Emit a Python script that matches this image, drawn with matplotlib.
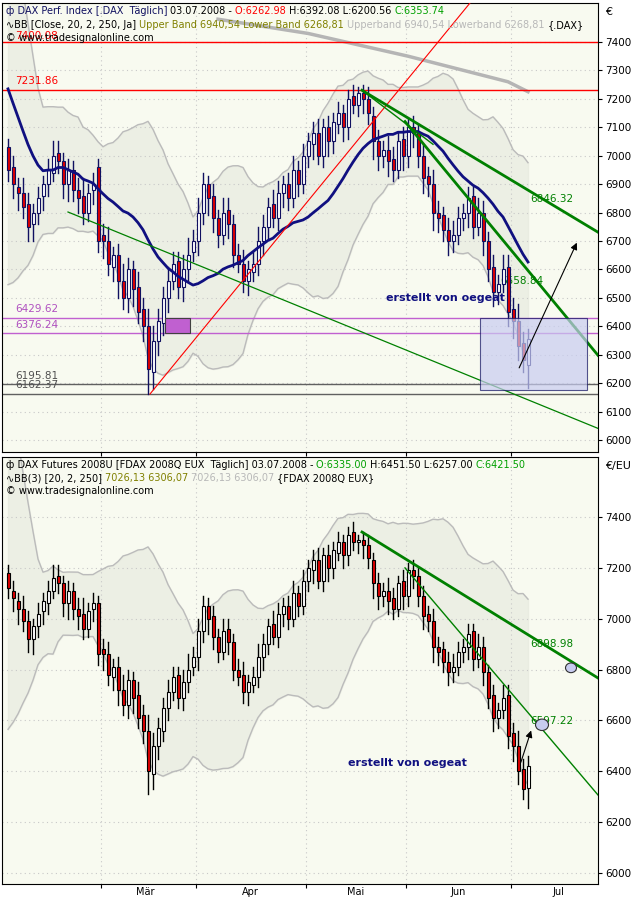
import matplotlib
matplotlib.use("Agg")
import matplotlib.pyplot as plt
import numpy as np
import pandas as pd
from matplotlib.patches import Rectangle, Ellipse

# ---------------- data ----------------
jan_closes = [7950, 7900, 7850, 7800, 7700, 7600, 7500, 7300, 6900, 7000, 6800, 6900,
              7100, 7050, 7000, 7150, 7000, 7050, 7100, 7050]
dax_close = [6950, 6900, 6870, 6820, 6750, 6800, 6850, 6900, 6950, 7000, 6980, 6900, 6950, 6880, 6850, 6800, 6870, 6900, 6700,
             6700, 6620, 6650, 6560, 6500, 6600, 6530, 6450, 6400, 6250, 6350, 6420,
             6500, 6560, 6620, 6540, 6600, 6650, 6700, 6800, 6900, 6850,
             6780, 6720, 6800, 6760, 6650, 6620, 6560, 6600, 6620, 6700,
             6750, 6820, 6780, 6870, 6900, 6850, 6950, 6900, 7000, 7050,
             7080, 7000, 7100, 7050, 7120, 7150, 7100, 7200, 7180, 7220,
             7200, 7150, 7050, 7000, 7020, 6980, 6950, 7050, 7000, 7100,
             7080, 7000, 6920, 6900, 6800, 6780, 6740, 6700, 6720, 6780,
             6800, 6850, 6750, 6800, 6700, 6600, 6520, 6550, 6600, 6450,
             6420, 6330, 6280, 6354]
dax_open = [7030, 6960, 6890, 6870, 6830, 6760, 6800, 6860, 6900, 6940, 7010, 6980, 6900, 6950, 6880, 6860, 6800, 6880, 6960,
            6720, 6700, 6610, 6650, 6560, 6500, 6600, 6540, 6460, 6400, 6240, 6350,
            6410, 6500, 6560, 6630, 6540, 6600, 6660, 6700, 6800, 6900,
            6860, 6780, 6720, 6810, 6760, 6650, 6620, 6560, 6590, 6620,
            6700, 6750, 6830, 6780, 6870, 6900, 6850, 6950, 6900, 7000,
            7040, 7080, 7000, 7100, 7050, 7110, 7150, 7100, 7210, 7180,
            7220, 7200, 7140, 7050, 7000, 7020, 6990, 6950, 7060, 7000,
            7100, 7080, 7000, 6930, 6900, 6800, 6790, 6740, 6700, 6720,
            6780, 6800, 6860, 6750, 6800, 6700, 6610, 6520, 6550, 6610,
            6460, 6420, 6340, 6263]
dax_high_ext = [30, 40, 30, 50, 40, 30, 40, 30, 40, 50, 40, 30, 40, 30, 40, 60, 30, 40, 30,
                40, 50, 30, 40, 60, 40, 30, 50, 40, 60, 50, 40,
                40, 50, 40, 30, 50, 60, 40, 50, 40, 30,
                40, 30, 50, 40, 30, 40, 50, 30, 40, 50,
                40, 30, 50, 40, 30, 40, 50, 30, 40, 30,
                40, 50, 30, 40, 30, 40, 30, 30, 40, 20,
                30, 40, 30, 40, 30, 50, 40, 30, 40, 30,
                40, 30, 40, 30, 50, 40, 30, 40, 50, 40,
                30, 40, 30, 50, 40, 30, 40, 30, 50, 40,
                40, 60, 40, 38]
dax_low_ext = [40, 50, 60, 40, 50, 60, 40, 50, 40, 30, 40, 50, 60, 40, 50, 40, 30, 50, 40,
               60, 40, 50, 60, 40, 50, 60, 40, 50, 88, 60, 50,
               40, 50, 30, 40, 50, 40, 30, 50, 40, 60,
               50, 40, 30, 50, 40, 30, 40, 50, 30, 40,
               50, 40, 30, 40, 50, 40, 30, 40, 30, 40,
               50, 30, 40, 50, 40, 30, 50, 40, 30, 40,
               50, 40, 60, 50, 40, 50, 40, 30, 50, 40,
               50, 40, 50, 40, 60, 50, 40, 50, 40, 30,
               40, 50, 40, 30, 50, 40, 50, 40, 30, 50,
               60, 50, 40, 80]

fut_close = [7120, 7080, 7040, 6990, 6920, 6970, 7020, 7070, 7110, 7160, 7140, 7060, 7110, 7040, 7010, 6960, 7030, 7060, 6860,
             6860, 6780, 6810, 6720, 6660, 6760, 6690, 6610, 6560, 6400, 6500, 6570,
             6650, 6710, 6770, 6690, 6750, 6800, 6850, 6950, 7050, 7000,
             6930, 6870, 6950, 6910, 6800, 6770, 6710, 6750, 6770, 6850,
             6900, 6970, 6930, 7020, 7050, 7000, 7100, 7050, 7150, 7200,
             7230, 7150, 7250, 7200, 7270, 7300, 7250, 7330, 7300, 7310,
             7290, 7240, 7140, 7090, 7110, 7070, 7040, 7140, 7090, 7190,
             7170, 7090, 7010, 6990, 6890, 6870, 6830, 6790, 6810, 6870,
             6890, 6940, 6840, 6890, 6790, 6690, 6610, 6640, 6690, 6540,
             6500, 6400, 6330, 6421]
fut_open = [7180, 7110, 7070, 7040, 6990, 6920, 6970, 7030, 7060, 7110, 7170, 7140, 7060, 7110, 7040, 7020, 6960, 7040, 7060,
            6880, 6860, 6770, 6810, 6720, 6660, 6760, 6700, 6620, 6560, 6390, 6500,
            6560, 6650, 6710, 6780, 6690, 6750, 6810, 6850, 6950, 7050,
            7010, 6930, 6870, 6960, 6910, 6800, 6780, 6710, 6740, 6770,
            6850, 6900, 6980, 6930, 7020, 7050, 7000, 7100, 7050, 7150,
            7190, 7230, 7150, 7250, 7200, 7260, 7300, 7250, 7340, 7300,
            7310, 7290, 7230, 7140, 7090, 7110, 7080, 7040, 7150, 7090,
            7190, 7170, 7090, 7020, 6990, 6890, 6880, 6830, 6790, 6810,
            6870, 6890, 6950, 6840, 6890, 6790, 6700, 6610, 6640, 6700,
            6550, 6500, 6410, 6335]

months = ["Mär", "Apr", "Mai", "Jun", "Jul"]
month_bounds = [18.5, 37.5, 59.5, 79.5, 100.5]
month_label_pos = [27.5, 48.5, 69.5, 90.0, 110.0]

ma_250_pts_x = [42, 60, 80, 100, 104]
ma_250_pts_y = [7480, 7430, 7350, 7260, 7225]

# ---------------- helpers ----------------
BG = "#F8FAF0"
n = len(dax_close)
idx = np.arange(n)

fig = plt.figure(figsize=(6.4, 9.0), dpi=100)
fig.patch.set_facecolor("white")
ax1 = fig.add_axes([2/640, 1-452/900, 596/640, 449/900])
ax2 = fig.add_axes([2/640, 1-884/900, 596/640, 427/900])
renderer = fig.canvas.get_renderer()

def bands(closes):
    s = pd.Series(jan_closes + list(closes), dtype=float)
    ma = s.rolling(20).mean().values[-n:]
    sd = s.rolling(20).std(ddof=0).values[-n:]
    return ma, ma + 2*sd, ma - 2*sd

def candles(ax, o, c, hx, lx, edge):
    for i in range(n):
        hi = max(o[i], c[i]) + hx[i]
        lo = min(o[i], c[i]) - lx[i]
        ax.plot([i, i], [lo, hi], color=edge, lw=1, zorder=3)
        col = "white" if c[i] >= o[i] else "#E00000"
        ax.add_patch(Rectangle((i-0.3, min(o[i], c[i])), 0.6, max(abs(c[i]-o[i]), 3),
                               facecolor=col, edgecolor=edge, lw=0.8, zorder=4))

def style(ax, ylo, yhi, ticks):
    ax.set_facecolor(BG)
    ax.set_xlim(-1.2, 118)
    ax.set_ylim(ylo, yhi)
    ax.yaxis.tick_right()
    ax.set_yticks(ticks)
    ax.set_yticklabels([str(t) for t in ticks], fontsize=7.5)
    ax.tick_params(axis="y", length=3, pad=2)
    ax.set_xticks(month_bounds)
    ax.set_xticklabels([])
    ax.tick_params(axis="x", length=3)
    ax.grid(True, color="#C8C8C8", ls=(0, (1, 3)), lw=0.8)
    for sp in ax.spines.values():
        sp.set_color("black"); sp.set_linewidth(0.8)

def header(ax, y, parts, size=7):
    x = 0.006
    for txt, col in parts:
        t = ax.text(x, y, txt, color=col, fontsize=size, transform=ax.transAxes, va="top", zorder=8)
        bb = t.get_window_extent(renderer=renderer)
        x += bb.width / ax.get_window_extent(renderer=renderer).width

# ---------------- top panel ----------------
ma, up, lo = bands(dax_close)
ax1.fill_between(idx, lo, up, color="#E4E8DC", alpha=0.6, zorder=1)
ax1.plot(idx, up, color="#BBBBBB", lw=1, zorder=2)
ax1.plot(idx, lo, color="#BBBBBB", lw=1, zorder=2)
ax1.plot(ma_250_pts_x, ma_250_pts_y, color="#B5B5B5", lw=2.5, zorder=2)
ax1.plot(idx, ma, color="#101080", lw=2, zorder=5)
candles(ax1, dax_open, dax_close, dax_high_ext, dax_low_ext, "#101060")
style(ax1, 5958, 7537, list(range(6000, 7401, 100)))

for lvl, col in [(7400.08, "red"), (7231.86, "red"), (6429.62, "#C060D0"), (6376.24, "#C060D0"),
                 (6195.81, "#606060"), (6162.37, "#606060")]:
    ax1.axhline(lvl, color=col, lw=1, zorder=2)
for lvl, col in [(7231.86, "red"), (6429.62, "#B050C0"), (6376.24, "#B050C0"),
                 (6195.81, "#505050"), (6162.37, "#505050")]:
    ax1.text(1.5, lvl + 12, f"{lvl:.2f}", color=col, fontsize=7.5, va="bottom")
ax1.text(1.5, 7405, "7400.08", color="red", fontsize=7.5, va="bottom")
ax1.add_patch(Rectangle((31.4, 6376.24), 5, 53.38, facecolor="#C060D0", edgecolor="#404040", lw=0.8, zorder=6))
ax1.plot([28.4, 92.4], [6162, 7537], color="red", lw=0.8, zorder=6)
ax1.plot([12, 118], [6802, 6041], color="green", lw=0.9, zorder=6)
ax1.plot([70.8, 118], [7230, 6731], color="green", lw=2, zorder=6)
ax1.plot([79.4, 118], [7120, 6298], color="green", lw=2, zorder=6)
ax1.plot([70.8, 85], [7230, 7040], color="green", lw=1, zorder=6)
ax1.text(104.5, 6846, "6846.32", color="green", fontsize=7.5, va="center")
ax1.text(98.5, 6559, "6558.84", color="green", fontsize=7.5, va="center")
ax1.add_patch(Rectangle((94.4, 6175), 21.4, 253, facecolor="#C8CCF0", alpha=0.7,
                        edgecolor="#101060", lw=0.8, zorder=6))
ax1.annotate("", xy=(114, 6703), xytext=(102, 6245),
             arrowprops=dict(arrowstyle="-|>", color="black", lw=0.8), zorder=7)
ax1.text(75.5, 6490, "erstellt von oegeat", color="#101080", fontsize=8, fontweight="bold", zorder=7)

header(ax1, 0.993, [("ф DAX Perf. Index [.DAX  Täglich] ", "#101060"), ("03.07.2008 - ", "black"),
                    ("O:6262.98 ", "red"), ("H:6392.08 L:6200.56 ", "black"), ("C:6353.74", "#00A000")])
header(ax1, 0.963, [("∿BB [Close, 20, 2, 250, Ja] ", "black"), ("Upper Band 6940,54 Lower Band 6268,81 ", "#808000"),
                    ("Upperband 6940,54 Lowerband 6268,81 ", "#B8B8B8"), ("{.DAX}", "black")])
ax1.text(0.006, 0.933, "© www.tradesignalonline.com", fontsize=7, transform=ax1.transAxes, va="top", zorder=8)
fig.text(605/640, 1-12/900, "€", fontsize=8, va="center")

# ---------------- bottom panel ----------------
ma2, up2, lo2 = bands(fut_close)
ax2.fill_between(idx, lo2, up2, color="#E4E8DC", alpha=0.6, zorder=1)
ax2.plot(idx, up2, color="#BBBBBB", lw=1, zorder=2)
ax2.plot(idx, lo2, color="#BBBBBB", lw=1, zorder=2)
candles(ax2, fut_open, fut_close, dax_high_ext, dax_low_ext, "black")
style(ax2, 5957, 7636, list(range(6000, 7401, 200)))
ax2.plot([70.8, 118], [7341, 6767], color="green", lw=2, zorder=6)
ax2.plot([79.4, 118], [7200, 6307], color="green", lw=1, zorder=6)
ax2.text(104.5, 6899, "6898.98", color="green", fontsize=7.5, va="center")
ax2.text(104.5, 6597, "6597.22", color="green", fontsize=7.5, va="center")
ax2.annotate("", xy=(104.8, 6571), xytext=(102.4, 6425),
             arrowprops=dict(arrowstyle="-|>", color="black", lw=0.8), zorder=7)
ax2.add_patch(Ellipse((106.8, 6583), 2.6, 45, facecolor="#C8CCF0", edgecolor="#303030", lw=0.8, zorder=7))
ax2.add_patch(Ellipse((112.6, 6807), 2.2, 38, facecolor="#C8CCF0", edgecolor="#303030", lw=0.8, zorder=7))
ax2.text(68, 6420, "erstellt von oegeat", color="#101080", fontsize=8, fontweight="bold", zorder=7)
header(ax2, 0.993, [("ф DAX Futures 2008U [FDAX 2008Q EUX  Täglich] 03.07.2008 - ", "black"),
                    ("O:6335.00 ", "#00A000"), ("H:6451.50 L:6257.00 ", "black"), ("C:6421.50", "#00A000")])
header(ax2, 0.962, [("∿BB(3) [20, 2, 250] ", "black"), ("7026,13 6306,07 ", "#808000"),
                    ("7026,13 6306,07 ", "#B8B8B8"), ("{FDAX 2008Q EUX}", "black")])
ax2.text(0.006, 0.931, "© www.tradesignalonline.com", fontsize=7, transform=ax2.transAxes, va="top", zorder=8)
fig.text(605/640, 1-466/900, "€/EU", fontsize=8, va="center")
for m, p in zip(months, month_label_pos):
    ax2.text(p, -0.008, m, transform=ax2.get_xaxis_transform(), ha="center", va="top", fontsize=7)

fig.savefig("out.png", dpi=100, facecolor="white")
